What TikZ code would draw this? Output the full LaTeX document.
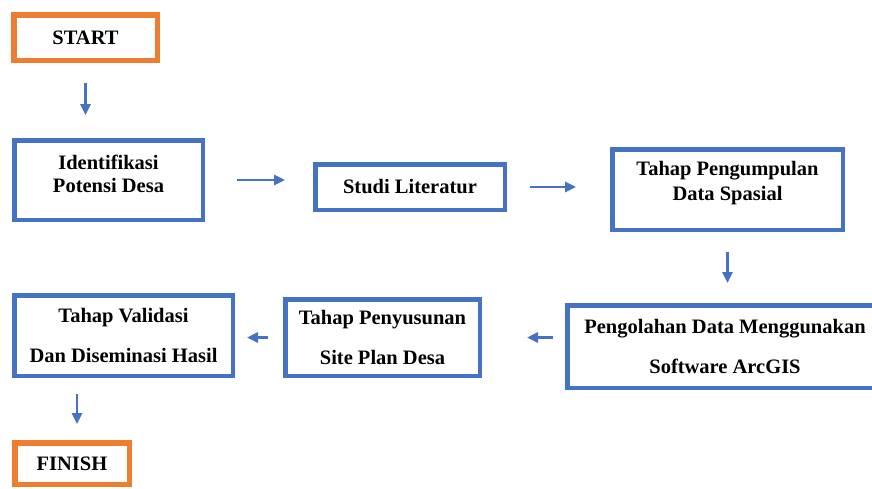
\documentclass[tikz,border=0pt]{standalone}
\usepackage{fontspec}
\setmainfont{Liberation Serif}
\usetikzlibrary{arrows.meta,shadows}
\definecolor{boxblue}{HTML}{4472C4}
\definecolor{boxorange}{HTML}{ED7D31}

\begin{document}
\begin{tikzpicture}[x=1pt,y=-1pt,
  box/.style={draw=boxblue,line width=4.5pt,fill=white,align=center,inner sep=0pt,
    font=\fontsize{20.5}{23}\selectfont\bfseries},
  endbox/.style={draw=boxorange,line width=5.5pt,fill=white,inner sep=0pt,
    font=\fontsize{20.5}{23}\selectfont\bfseries,
    drop shadow={opacity=0.2,shadow xshift=2pt,shadow yshift=-2pt}},
  arr/.style={draw=boxblue,line width=2.6pt,-{Triangle[width=10pt,length=11pt]}}]
\useasboundingbox (0,0) rectangle (872,488);
% start and finish
\node[endbox,minimum width=143.5pt,minimum height=45.5pt] (start) at (85.5,37.5) {START};
\node[endbox,minimum width=114.5pt,minimum height=41.5pt] (fin) at (72,463.5) {FINISH};
% upper row
\node[box,minimum width=188.5pt,minimum height=79.5pt,text depth=12pt] (idf) at (108.5,180) {Identifikasi\\Potensi Desa};
\node[box,minimum width=189.5pt,minimum height=45.5pt] (stu) at (410,187) {Studi Literatur};
\node[box,minimum width=230.5pt,minimum height=80.5pt,text depth=18pt] (dat) at (727.5,189.5) {Tahap Pengumpulan\\[2pt]Data Spasial};
% lower row
\node[box,minimum width=315.5pt,minimum height=82.5pt] (olah) at (725,346.5) {Pengolahan Data Menggunakan\\[17pt]Software ArcGIS};
\node[box,minimum width=194.5pt,minimum height=76.5pt] (sus) at (382.5,337.5) {Tahap Penyusunan\\[17pt]Site Plan Desa};
\node[box,minimum width=218.5pt,minimum height=80.5pt] (val) at (123.5,335.5) {Tahap Validasi\\[17pt]Dan Diseminasi Hasil};
% arrows
\draw[arr,shorten <=20pt,shorten >=23pt] (start.south) -- (start.south |- idf.north);
\draw[arr,shorten <=32pt,shorten >=28pt] (idf.east) -- (idf.east -| stu.west);
\draw[arr,shorten <=23pt,shorten >=34pt] (stu.east) -- (stu.east -| dat.west);
\draw[arr,shorten <=20pt,shorten >=20pt] (dat.south) -- (dat.south |- olah.north);
\draw[arr,shorten <=12pt,shorten >=45pt] (sus.east -| olah.west) -- (sus.east);
\draw[arr,shorten <=15pt,shorten >=12pt] (sus.west) -- (sus.west -| val.east);
\draw[arr,shorten <=16pt,shorten >=16pt] ([xshift=5pt]fin.north |- val.south) -- ([xshift=5pt]fin.north);
\end{tikzpicture}
\end{document}
